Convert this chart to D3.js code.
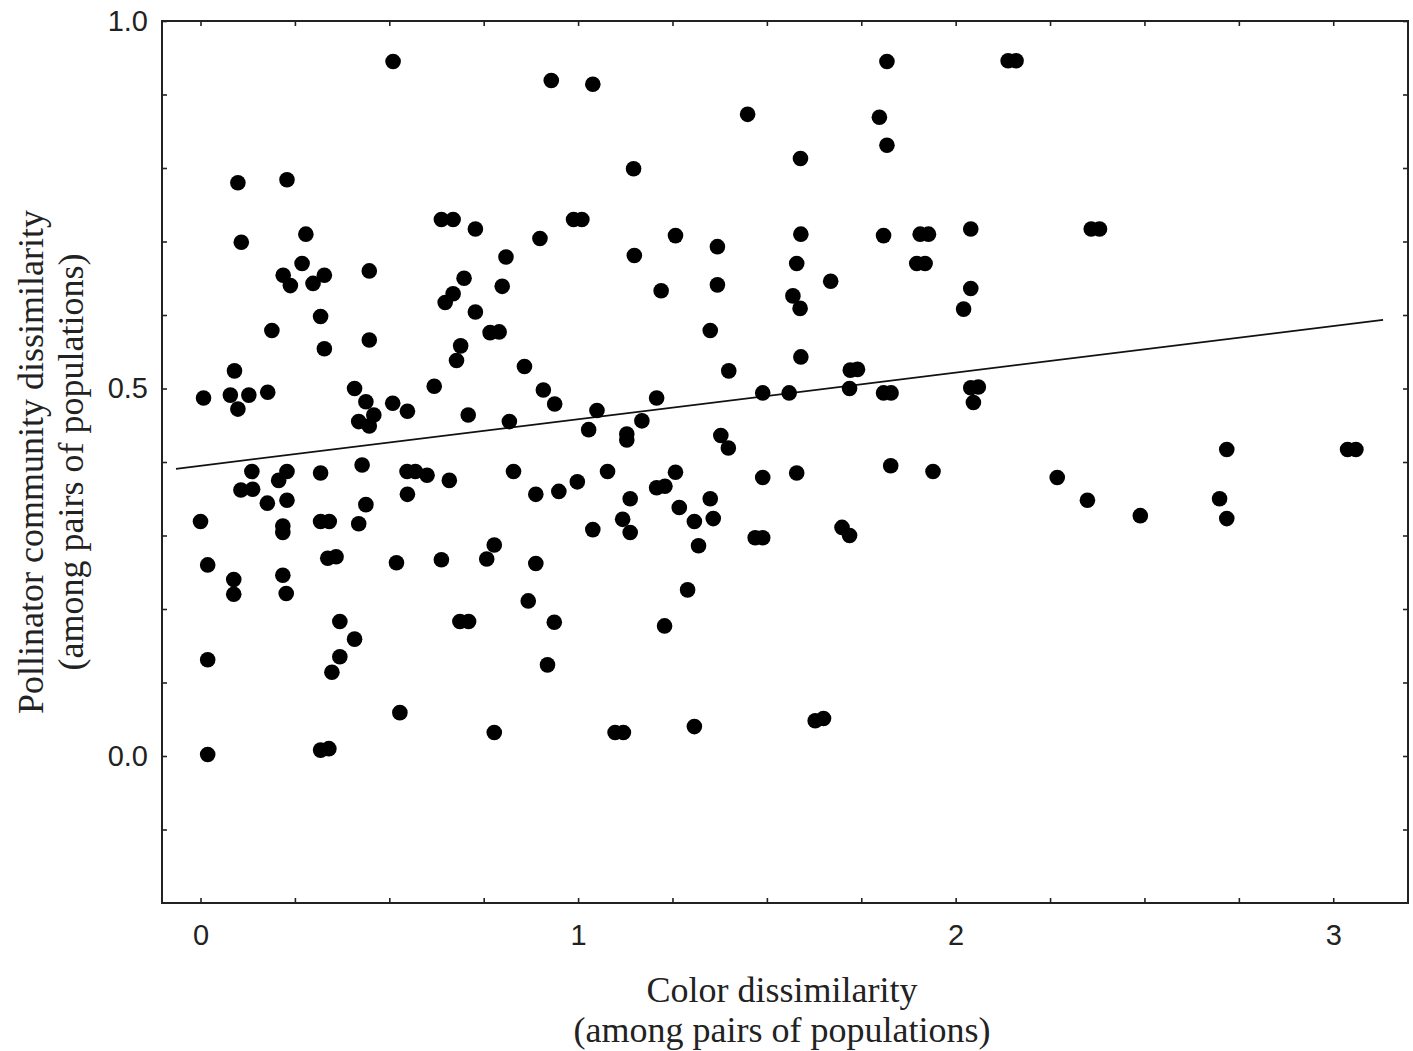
<!DOCTYPE html>
<html>
<head>
<meta charset="utf-8">
<script src="https://cdn.jsdelivr.net/npm/d3@7"></script>
<style>
  body { margin: 0; background: #fff; }
  svg { display: block; }
</style>
</head>
<body>
<script>
// color dissimilarity (x) and pollinator community dissimilarity (y)
const colorDiss = [
  0.510, 0.929, 1.039, 1.449, 1.798, 1.818, 1.818, 1.589, 1.147, 0.099,
  0.229, 2.139, 2.160, 0.108, 0.279, 0.269, 0.219, 0.238, 0.328, 0.298,
  0.318, 0.189, 0.328, 0.090, 0.008, 0.079, 0.128, 0.099, 0.178, 0.447,
  0.447, 0.408, 0.438, 0.459, 0.419, 0.447, 0.509, 0.548, 0.619, 0.709,
  0.638, 0.669, 0.728, 0.698, 0.669, 0.648, 0.728, 0.689, 0.678, 0.136,
  0.229, 0.207, 0.318, 0.428, 0.547, 0.569, 0.600, 0.659, 0.107, 0.138,
  0.177, 0.229, 0.000, 0.218, 0.218, 0.318, 0.341, 0.419, 0.438, 0.548,
  0.019, 0.088, 0.088, 0.218, 0.227, 0.337, 0.359, 0.519, 0.638, 0.369,
  0.408, 0.369, 0.348, 0.687, 0.710, 0.019, 0.528, 0.019, 0.318, 0.340,
  0.809, 0.899, 0.988, 1.010, 1.149, 1.258, 1.369, 0.799, 0.767, 0.791,
  0.858, 0.908, 0.938, 1.220, 1.369, 1.350, 1.399, 1.208, 1.050, 0.818,
  1.169, 1.028, 1.129, 1.129, 1.378, 1.398, 0.829, 0.888, 0.949, 0.998,
  1.078, 1.258, 1.208, 1.230, 1.138, 1.118, 1.138, 1.039, 1.268, 1.350,
  1.308, 1.358, 1.319, 0.758, 0.778, 0.888, 0.868, 0.937, 0.919, 1.290,
  1.229, 0.778, 1.098, 1.120, 1.308, 1.590, 1.809, 1.906, 1.928, 2.040,
  1.579, 1.897, 1.919, 1.669, 1.569, 1.588, 2.040, 2.021, 1.590, 1.721,
  1.740, 1.489, 1.559, 1.719, 1.809, 1.829, 2.040, 2.060, 2.047, 1.828,
  1.940, 1.489, 1.579, 1.469, 1.489, 1.699, 1.719, 1.628, 1.650, 2.359,
  2.381, 2.269, 2.349, 2.489, 2.718, 2.699, 2.718, 3.038, 3.060
];
const pollDiss = [
  0.945, 0.919, 0.914, 0.873, 0.869, 0.945, 0.831, 0.813, 0.799, 0.780,
  0.784, 0.946, 0.946, 0.699, 0.710, 0.670, 0.654, 0.640, 0.654, 0.643,
  0.598, 0.579, 0.554, 0.524, 0.487, 0.491, 0.491, 0.472, 0.495, 0.660,
  0.566, 0.500, 0.482, 0.464, 0.455, 0.449, 0.480, 0.469, 0.503, 0.464,
  0.730, 0.730, 0.717, 0.650, 0.629, 0.617, 0.604, 0.558, 0.538, 0.387,
  0.387, 0.375, 0.385, 0.396, 0.387, 0.387, 0.382, 0.375, 0.362, 0.363,
  0.344, 0.348, 0.319, 0.313, 0.304, 0.319, 0.319, 0.316, 0.342, 0.356,
  0.260, 0.240, 0.220, 0.246, 0.221, 0.269, 0.271, 0.263, 0.267, 0.183,
  0.159, 0.135, 0.114, 0.183, 0.183, 0.131, 0.059, 0.002, 0.008, 0.010,
  0.679, 0.704, 0.730, 0.730, 0.681, 0.708, 0.693, 0.639, 0.576, 0.577,
  0.530, 0.498, 0.479, 0.633, 0.641, 0.579, 0.524, 0.487, 0.470, 0.455,
  0.456, 0.444, 0.438, 0.430, 0.436, 0.419, 0.387, 0.356, 0.360, 0.373,
  0.387, 0.386, 0.365, 0.367, 0.350, 0.322, 0.304, 0.308, 0.338, 0.350,
  0.319, 0.323, 0.286, 0.268, 0.287, 0.262, 0.211, 0.182, 0.124, 0.226,
  0.177, 0.032, 0.032, 0.032, 0.040, 0.710, 0.708, 0.710, 0.710, 0.717,
  0.670, 0.670, 0.670, 0.646, 0.626, 0.609, 0.636, 0.608, 0.543, 0.525,
  0.526, 0.494, 0.494, 0.500, 0.494, 0.494, 0.501, 0.502, 0.481, 0.395,
  0.387, 0.379, 0.385, 0.297, 0.297, 0.311, 0.300, 0.048, 0.051, 0.717,
  0.717, 0.379, 0.348, 0.327, 0.417, 0.350, 0.323, 0.417, 0.417
];

// linear fit drawn across the cloud
const fitIntercept = 0.3948;
const fitSlope = 0.0634;
const fitRange = [-0.065, 3.132];

const xTicks = d3.range(0, 3.01, 0.25);
const xLabels = [0, 1, 2, 3];
const yTicks = d3.range(-0.1, 1.001, 0.1).map(v => +v.toFixed(1));
const yLabels = [0.0, 0.5, 1.0];

const xTitle = ["Color dissimilarity", "(among pairs of populations)"];
const yTitle = ["Pollinator community dissimilarity", "(among pairs of populations)"];

const chart = {
    width: 1413,
    height: 1051,
    left: 162,
    right: 1408,
    top: 21,
    bottom: 903
};

const svg = d3.select("body").append("svg")
    .attr("width", chart.width)
    .attr("height", chart.height);

const x = d3.scaleLinear()
    .domain([-0.102, 3.198])
    .range([chart.left, chart.right]);
const y = d3.scaleLinear()
    .domain([-0.2, 1.0])
    .range([chart.bottom, chart.top]);

const tickFont = "'Liberation Sans', Arial, sans-serif";
const titleFont = "'Liberation Serif', 'Times New Roman', serif";

const styleAxis = (g) => {
    g.select(".domain").remove();
    g.selectAll(".tick line").attr("stroke", "#222").attr("stroke-width", 1.6);
    g.selectAll(".tick text")
        .attr("fill", "#222")
        .style("font-family", tickFont)
        .style("font-size", "29px");
};

svg.append("g")
    .attr("transform", "translate(" + chart.left + ",0)")
    .call(d3.axisLeft(y).tickValues(yTicks).tickSize(-5).tickPadding(14)
        .tickFormat(d => yLabels.some(v => Math.abs(v - d) < 1e-6) ? d3.format(".1f")(d) : ""))
    .call(styleAxis);

svg.append("g")
    .attr("transform", "translate(" + chart.right + ",0)")
    .call(d3.axisRight(y).tickValues(yTicks).tickSize(-5).tickFormat(""))
    .call(styleAxis);

svg.append("g")
    .attr("transform", "translate(0," + chart.bottom + ")")
    .call(d3.axisBottom(x).tickValues(xTicks).tickSize(-5).tickPadding(21)
        .tickFormat(d => xLabels.includes(d) ? d3.format("d")(d) : ""))
    .call(styleAxis);

svg.append("g")
    .attr("transform", "translate(0," + chart.top + ")")
    .call(d3.axisTop(x).tickValues(xTicks).tickSize(-5).tickFormat(""))
    .call(styleAxis);

// frame
svg.append("rect")
    .attr("x", chart.left)
    .attr("y", chart.top)
    .attr("width", chart.right - chart.left)
    .attr("height", chart.bottom - chart.top)
    .attr("fill", "none")
    .attr("stroke", "#222")
    .attr("stroke-width", 2);

// fit line
svg.append("line")
    .attr("x1", x(fitRange[0]))
    .attr("y1", y(fitIntercept + fitSlope * fitRange[0]))
    .attr("x2", x(fitRange[1]))
    .attr("y2", y(fitIntercept + fitSlope * fitRange[1]))
    .attr("stroke", "#111")
    .attr("stroke-width", 1.7);

svg.append("g").selectAll("circle")
    .data(d3.zip(colorDiss, pollDiss))
    .enter()
    .append("circle")
    .attr("cx", d => x(d[0]))
    .attr("cy", d => y(d[1]))
    .attr("r", 7.8)
    .attr("fill", "#000");

// axis titles
const midX = (chart.left + chart.right) / 2 - 3;
const midY = (chart.top + chart.bottom) / 2;

svg.append("g").selectAll("text")
    .data(xTitle)
    .enter()
    .append("text")
    .attr("x", midX)
    .attr("y", (d, i) => 990 + i * 40)
    .attr("text-anchor", "middle")
    .attr("dominant-baseline", "central")
    .attr("fill", "#222")
    .style("font-family", titleFont)
    .style("font-size", "36px")
    .text(d => d);

svg.append("g").selectAll("text")
    .data(yTitle)
    .enter()
    .append("text")
    .attr("transform", (d, i) => "translate(" + (31 + i * 40) + "," + midY + ") rotate(-90)")
    .attr("text-anchor", "middle")
    .attr("dominant-baseline", "central")
    .attr("fill", "#222")
    .style("font-family", titleFont)
    .style("font-size", "36px")
    .text(d => d);
</script>
</body>
</html>
